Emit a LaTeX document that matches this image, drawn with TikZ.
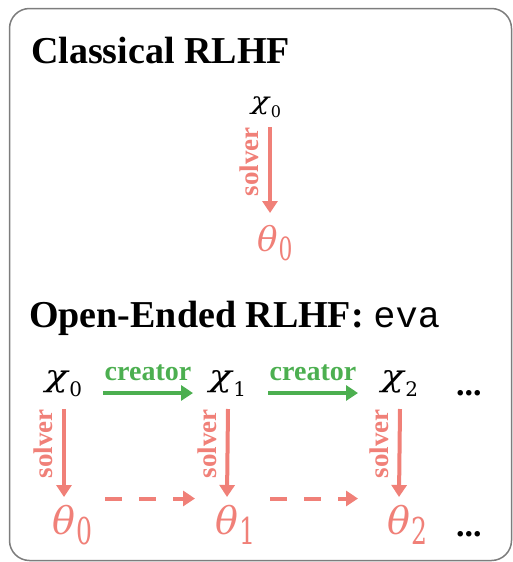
\documentclass[tikz,border=0pt]{standalone}
\usepackage{fontspec}
\usepackage{graphicx}
\setmainfont{Liberation Serif}
\newfontfamily\evafont{Liberation Mono}
\newfontfamily\symfont{DejaVu Serif}
\usetikzlibrary{arrows.meta}
\definecolor{salmon}{RGB}{240,128,120}
\definecolor{cgreen}{RGB}{76,175,80}
\definecolor{framegray}{RGB}{125,125,125}
\newcommand{\chibig}[1]{\raisebox{3.5pt}{\scalebox{1.25}[1]{\symfont\fontsize{30}{30}\selectfont\itshape χ}}\kern1.5pt\raisebox{-6.5pt}{\symfont\fontsize{20}{20}\selectfont #1}}
\newcommand{\chismall}[1]{\raisebox{3pt}{\scalebox{1.25}[1]{\symfont\fontsize{24}{24}\selectfont\itshape χ}}\kern1.5pt\raisebox{-5pt}{\symfont\fontsize{16}{16}\selectfont #1}}
\newcommand{\thetabig}[1]{{\symfont\fontsize{38}{38}\selectfont\itshape θ}\kern1pt\raisebox{-10pt}{\scalebox{0.68}[1]{\symfont\fontsize{37}{37}\selectfont #1}}}
\newcommand{\thetasmall}[1]{{\symfont\fontsize{34}{34}\selectfont\itshape θ}\kern1pt\raisebox{-9pt}{\scalebox{0.68}[1]{\symfont\fontsize{32}{32}\selectfont #1}}}
\tikzset{
  sym/.style={inner sep=0pt, anchor=base west},
  titletext/.style={inner sep=0pt, anchor=base west, font=\fontsize{38}{40}\selectfont\bfseries},
  solverarrow/.style={draw=salmon, line width=4pt, -{Triangle[length=12pt,width=15pt]}},
  creatorarrow/.style={draw=cgreen, line width=4pt, -{Triangle[length=12pt,width=15pt]}},
  dasharrow/.style={draw=salmon, line width=4pt, dash pattern=on 17pt off 17pt, -{Triangle[length=12pt,width=15pt]}},
  solverlabel/.style={inner sep=0pt, rotate=90, anchor=base east, text=salmon, font=\fontsize{27}{27}\selectfont\bfseries},
  creatorlabel/.style={inner sep=0pt, anchor=base, text=cgreen, font=\fontsize{28}{28}\selectfont\bfseries},
  dots/.style={inner sep=0pt, anchor=base west, font=\fontsize{34}{34}\selectfont\bfseries}
}
\begin{document}
\begin{tikzpicture}[x=1pt,y=-1pt]
\useasboundingbox (0,0) rectangle (512,562);
\draw[framegray, line width=1.5pt, rounded corners=20pt] (9.5,8.5) rectangle (511.5,560.5);

% Classical
\node[titletext] (title1) at (31,63) {Classical RLHF};
\node[sym] (cx) at (251,112) {\chismall{0}};
\node[sym, text=salmon] (ct) at (257,251) {\thetasmall{0}};
\draw[solverarrow] ([shift={(19,15)}]cx.base west) -- ([shift={(13,-38)}]ct.base west);
\node[solverlabel] (cl) at ([shift={(7,15)}]cx.base west) {solver};

% Open-ended
\node[titletext] (title2) at (29,327) {Open-Ended RLHF: {\mdseries\evafont\fontsize{37}{37}\selectfont eva}};

\node[sym] (x0) at (45,390) {\chibig{0}};
\node[sym] (x1) at (209,390) {\chibig{1}};
\node[sym] (x2) at (381,390) {\chibig{2}};
\node[dots] (d1) at (456,395) {...};

\node[sym, text=salmon] (t0) at (52,534) {\thetabig{0}};
\node[sym, text=salmon] (t1) at (215,534) {\thetabig{1}};
\node[sym, text=salmon] (t2) at (387,534) {\thetabig{2}};
\node[dots] (d2) at (456,536) {...};

% creator arrows
\draw[creatorarrow] ([shift={(58,3)}]x0.base west) -- node[creatorlabel, yshift=13pt] (cr1) {creator} ([shift={(-16,3)}]x1.base west);
\draw[creatorarrow] ([shift={(59,3)}]x1.base west) -- node[creatorlabel, yshift=13pt] (cr2) {creator} ([shift={(-23,3)}]x2.base west);

% solver arrows
\foreach \a/\b in {x0/t0, x1/t1, x2/t2}{
  \draw[solverarrow] ([shift={(19,19)}]\a.base west) -- ([shift={(12,-37)}]\b.base west);
  \node[solverlabel] (l\a) at ([shift={(7,19)}]\a.base west) {solver};
}

% dashed arrows
\draw[dasharrow] ([shift={(53,-35.5)}]t0.base west) -- ([shift={(-20,-35.5)}]t1.base west);
\draw[dasharrow] ([shift={(55,-35.5)}]t1.base west) -- ([shift={(-29,-35.5)}]t2.base west);
\end{tikzpicture}
\end{document}
